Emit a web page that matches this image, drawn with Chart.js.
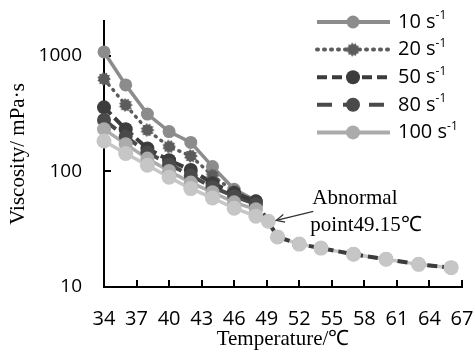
<!DOCTYPE html>
<html><head><meta charset="utf-8">
<script src="https://cdn.jsdelivr.net/npm/chart.js@4"></script>
<style>html,body{margin:0;padding:0;background:#fff}</style>
</head><body>
<canvas id="c" width="475" height="352"></canvas>
<script>
// ---- data ----
const temps = [34, 36, 38, 40, 42, 44, 46, 48];
const abnormalTemp = 49.15;
const tailTemps = [50, 52, 54, 57, 60, 63, 66];
const v10  = [1080, 560, 313, 221, 178, 110, 70, 56];
const v20  = [631, 375, 228, 164, 136, 92, 67, 55];
const v50  = [358, 232, 158, 125, 103, 79, 65, 55];
const v80  = [279, 200, 146, 115, 92, 73, 61, 52];
const v100 = [232, 172, 129, 101, 80, 66, 54, 47];
const vLight = [183, 143, 113, 89, 71, 59, 48, 41];
const vAbnormal = 37;
const vTail = [27.1, 23.5, 21.7, 19.2, 17.4, 15.7, 14.7];
const seriesLabels = ['10 s-1', '20 s-1', '50 s-1', '80 s-1', '100 s-1'];
const xTicks = [34, 37, 40, 43, 46, 49, 52, 55, 58, 61, 64, 67];
const yTicks = [10, 100, 1000];
const xTitle = 'Temperature/\u2103';
const yTitle = 'Viscosity/ mPa\u00b7s';
const noteLines = ['Abnormal', 'point49.15\u2103'];

// ---- styles ----
function gear(color, r) {
  const c = document.createElement('canvas');
  const s = Math.ceil(r * 2 + 2);
  c.width = s; c.height = s;
  const g = c.getContext('2d');
  g.fillStyle = color; g.beginPath();
  const n = 11;
  for (let i = 0; i < n * 2; i++) {
    const a = i * Math.PI / n;
    const rr = i % 2 ? r * 0.75 : r;
    g.lineTo(s / 2 + rr * Math.cos(a), s / 2 + rr * Math.sin(a));
  }
  g.closePath(); g.fill();
  return c;
}
const styles = [
  {color: '#8c8c8c', dash: [], width: 3.5, radius: 6.5, style: 'circle', cap: 'butt'},
  {color: '#5c5c5c', dash: [1, 6], width: 3.5, radius: 7, style: gear('#5c5c5c', 7), cap: 'round'},
  {color: '#3c3c3c', dash: [10, 5], width: 4, radius: 7, style: 'circle', cap: 'butt'},
  {color: '#4a4a4a', dash: [15, 11], width: 4, radius: 7, style: 'circle', cap: 'butt'},
  {color: '#ababab', dash: [], width: 3.5, radius: 7, style: 'circle', cap: 'butt'},
  {color: '#c6c6c6', dash: [], width: 3.5, radius: 7.5, style: 'circle', cap: 'butt'}
];

const pts = (xs, ys) => xs.map((x, i) => ({x: x, y: ys[i]}));
const seriesData = [
  pts(temps, v10),
  pts(temps, v20),
  pts(temps, v50).concat(pts(tailTemps, vTail)),
  pts(temps, v80),
  pts(temps, v100),
  pts(temps, vLight).concat([{x: abnormalTemp, y: vAbnormal}]).concat(pts(tailTemps, vTail))
];
const lineOrder = [9, 8, 6, 7, 10, 11];
const pointOrder = [5, 4, 3, 2, 1, 0];

const datasets = [];
seriesData.forEach((d, i) => {
  const st = styles[i];
  datasets.push({
    label: seriesLabels[i] || '', data: d, showLine: true,
    borderColor: st.color, borderWidth: st.width, borderDash: st.dash, borderCapStyle: st.cap,
    pointRadius: 0, pointHoverRadius: 0, fill: false, clip: false, order: lineOrder[i]
  });
  datasets.push({
    label: (seriesLabels[i] || '') + ' markers', data: d, showLine: false,
    pointStyle: st.style, pointRadius: st.radius, pointHoverRadius: st.radius,
    pointBackgroundColor: st.color, pointBorderColor: st.color, pointBorderWidth: 0,
    clip: false, order: pointOrder[i]
  });
});

const insideTicks = {
  id: 'insideTicks',
  beforeDatasetsDraw(chart) {
    const {ctx, chartArea: a, scales: {x, y}} = chart;
    ctx.save(); ctx.strokeStyle = '#000'; ctx.lineWidth = 2; ctx.beginPath();
    x.ticks.forEach(t => { const p = Math.round(x.getPixelForValue(t.value)); ctx.moveTo(p, a.bottom); ctx.lineTo(p, a.bottom - 7); });
    y.ticks.forEach(t => { const p = Math.round(y.getPixelForValue(t.value)); ctx.moveTo(a.left, p); ctx.lineTo(a.left + 7, p); });
    ctx.stroke(); ctx.restore();
  }
};

const customLegend = {
  id: 'customLegend',
  afterDraw(chart) {
    const ctx = chart.ctx;
    const x0 = 317, x1 = 390, xm = 353, tx = 398, y0 = 22, dy = 27.6;
    seriesLabels.forEach((lab, i) => {
      const st = styles[i];
      const yy = y0 + i * dy;
      ctx.save();
      ctx.strokeStyle = st.color; ctx.lineWidth = 4; ctx.setLineDash(st.dash); ctx.lineCap = st.cap;
      ctx.beginPath(); ctx.moveTo(x0, yy); ctx.lineTo(x1, yy); ctx.stroke();
      ctx.setLineDash([]);
      if (typeof st.style === 'string') {
        ctx.fillStyle = st.color; ctx.beginPath(); ctx.arc(xm, yy, st.radius, 0, Math.PI * 2); ctx.fill();
      } else {
        ctx.drawImage(st.style, xm - st.style.width / 2, yy - st.style.height / 2);
      }
      const parts = lab.split('-');
      ctx.fillStyle = '#000'; ctx.textBaseline = 'middle'; ctx.textAlign = 'left';
      ctx.font = '20px "Open Sans"';
      ctx.fillText(parts[0], tx, yy);
      const w = ctx.measureText(parts[0]).width;
      ctx.font = '12px "Open Sans"';
      ctx.fillText('-' + parts[1], tx + w, yy - 6);
      ctx.restore();
    });
  }
};

const note = {
  id: 'note',
  afterDraw(chart) {
    const {ctx, scales: {x, y}} = chart;
    const px = x.getPixelForValue(abnormalTemp), py = y.getPixelForValue(vAbnormal);
    const tipX = px + 8, tipY = py - 1, tailX = px + 45, tailY = py - 10;
    ctx.save();
    ctx.strokeStyle = '#333'; ctx.lineWidth = 1.3;
    ctx.beginPath(); ctx.moveTo(tailX, tailY); ctx.lineTo(tipX, tipY); ctx.stroke();
    const ang = Math.atan2(tipY - tailY, tipX - tailX);
    ctx.beginPath();
    ctx.moveTo(tipX - 9 * Math.cos(ang - 0.45), tipY - 9 * Math.sin(ang - 0.45));
    ctx.lineTo(tipX, tipY);
    ctx.lineTo(tipX - 9 * Math.cos(ang + 0.45), tipY - 9 * Math.sin(ang + 0.45));
    ctx.stroke();
    ctx.fillStyle = '#000'; ctx.font = '21px "Liberation Serif"'; ctx.textBaseline = 'alphabetic';
    ctx.fillText(noteLines[0], px + 44, py - 17);
    ctx.fillText(noteLines[1], px + 42, py + 10);
    ctx.restore();
  }
};

const noPad = s => { s.paddingLeft = 0; s.paddingRight = 0; s.paddingTop = 0; s.paddingBottom = 0; };

new Chart(document.getElementById('c'), {
  type: 'scatter',
  data: {datasets},
  options: {
    responsive: false, animation: false, devicePixelRatio: 1,
    layout: {padding: {top: 21, right: 13, left: 0, bottom: 0}},
    plugins: {legend: {display: false}, tooltip: {enabled: false}},
    scales: {
      x: {
        type: 'linear', min: 34, max: 67,
        afterBuildTicks: s => { s.ticks = xTicks.map(v => ({value: v})); },
        afterFit: s => { s.height = 65; noPad(s); },
        grid: {display: true, drawOnChartArea: false, drawTicks: false},
        border: {display: true, color: '#000', width: 2},
        ticks: {color: '#000', font: {family: '"Open Sans"', size: 20}, padding: 20, maxRotation: 0, autoSkip: false, callback: v => String(v)},
        title: {display: true, text: xTitle, color: '#000', font: {family: '"Liberation Serif"', size: 21}, padding: {top: 0, bottom: 0}}
      },
      y: {
        type: 'logarithmic', min: 10, max: 2000,
        afterBuildTicks: s => { s.ticks = yTicks.map(v => ({value: v})); },
        afterFit: s => { s.width = 104; noPad(s); },
        grid: {display: true, drawOnChartArea: false, drawTicks: false},
        border: {display: true, color: '#000', width: 2},
        ticks: {color: '#000', font: {family: '"Open Sans"', size: 19}, padding: 22, callback: v => String(v)},
        title: {display: true, text: yTitle, color: '#000', font: {family: '"Liberation Serif"', size: 21}, padding: {top: 6, bottom: 0}}
      }
    }
  },
  plugins: [insideTicks, customLegend, note]
});
</script>
</body></html>
